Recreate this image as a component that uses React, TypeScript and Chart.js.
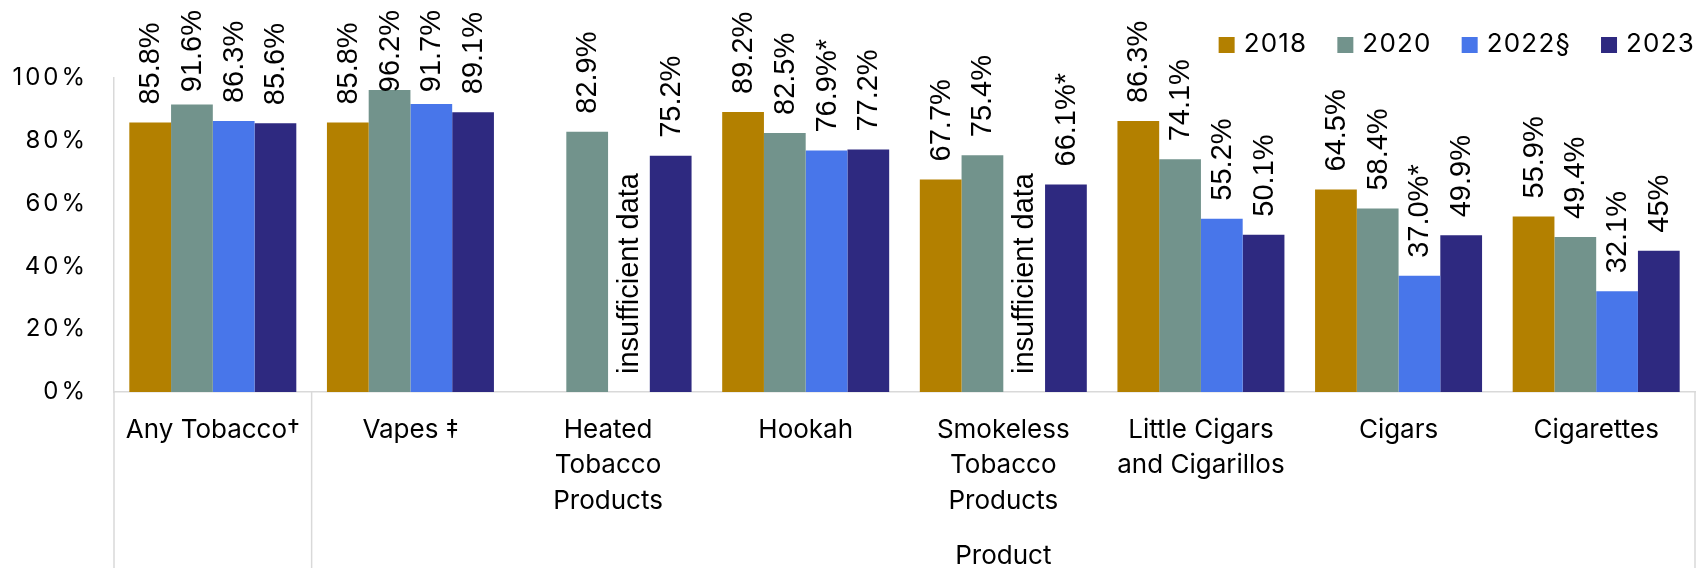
import React, { useEffect, useRef } from 'react';
import { Chart, registerables } from 'chart.js';

Chart.register(...registerables);

// ---- data ----
const categories: (string | string[])[] = [
  'Any Tobacco†',
  'Vapes ‡',
  ['Heated', 'Tobacco', 'Products'],
  'Hookah',
  ['Smokeless', 'Tobacco', 'Products'],
  ['Little Cigars', 'and Cigarillos'],
  'Cigars',
  'Cigarettes',
];
const seriesNames = ['2018', '2020', '2022§', '2023'];
const seriesColors = ['#B38000', '#72938C', '#4876EA', '#2E2980'];

const values2018 = [85.8, 85.8, null, 89.2, 67.7, 86.3, 64.5, 55.9];
const values2020 = [91.6, 96.2, 82.9, 82.5, 75.4, 74.1, 58.4, 49.4];
const values2022 = [86.3, 91.7, null, 76.9, null, 55.2, 37.0, 32.1];
const values2023 = [85.6, 89.1, 75.2, 77.2, 66.1, 50.1, 49.9, 45];

const labels2018 = ['85.8%', '85.8%', '', '89.2%', '67.7%', '86.3%', '64.5%', '55.9%'];
const labels2020 = ['91.6%', '96.2%', '82.9%', '82.5%', '75.4%', '74.1%', '58.4%', '49.4%'];
const labels2022 = ['86.3%', '91.7%', 'insufficient data', '76.9%*', 'insufficient data', '55.2%', '37.0%*', '32.1%'];
const labels2023 = ['85.6%', '89.1%', '75.2%', '77.2%', '66.1%*', '50.1%', '49.9%', '45%'];

const yMin = 0;
const yMax = 100;
const yStep = 20;
const axisTitle = 'Product';

const seriesValues = [values2018, values2020, values2022, values2023];
const seriesLabels = [labels2018, labels2020, labels2022, labels2023];

// ---- styles ----
const AXIS_COLOR = '#D9D9D9';
const TEXT_COLOR = '#000000';
const UI_FONT = 'Inter';
const LABEL_FONT = '"Liberation Sans", Arial, sans-serif';

const overlayPlugin = {
  id: 'overlay',
  afterLayout(chart: any) {
    const y = chart.scales.y;
    if (y && !y.__spaced) {
      const orig = y.drawLabels.bind(y);
      y.drawLabels = (area: any) => {
        const ctx: any = chart.ctx;
        const prev = ctx.letterSpacing;
        ctx.letterSpacing = '3px';
        orig(area);
        ctx.letterSpacing = prev || '0px';
      };
      y.__spaced = true;
    }
  },
  afterDatasetsDraw(chart: any) {
    const ctx: any = chart.ctx;
    const yScale = chart.scales.y;
    ctx.save();
    ctx.letterSpacing = '0px';
    ctx.fillStyle = TEXT_COLOR;
    ctx.font = `29px ${LABEL_FONT}`;
    ctx.textAlign = 'left';
    ctx.textBaseline = 'middle';
    chart.data.datasets.forEach((ds: any, di: number) => {
      const meta = chart.getDatasetMeta(di);
      const texts = seriesLabels[di];
      meta.data.forEach((el: any, i: number) => {
        const txt = texts[i];
        if (!txt) return;
        const v = ds.data[i] == null ? 0 : ds.data[i];
        const top = yScale.getPixelForValue(v);
        const w = ctx.measureText(txt).width;
        let start = top - 18;
        if (start - w < 10) start = 10 + w;
        ctx.save();
        ctx.translate(el.x, start);
        ctx.rotate(-Math.PI / 2);
        ctx.fillText(txt, 0, 1);
        ctx.restore();
      });
    });
    ctx.restore();
  },
  afterDraw(chart: any) {
    const ctx: any = chart.ctx;
    const x = chart.scales.x;
    const area = chart.chartArea;
    const cw = (x.right - x.left) / categories.length;
    ctx.save();
    ctx.letterSpacing = '0px';
    // multi-level category axis lines
    ctx.strokeStyle = AXIS_COLOR;
    ctx.lineWidth = 1.5;
    [x.left, x.left + cw, x.right].forEach((px: number) => {
      ctx.beginPath();
      ctx.moveTo(px, area.bottom);
      ctx.lineTo(px, chart.height);
      ctx.stroke();
    });
    // outer level title
    ctx.fillStyle = TEXT_COLOR;
    ctx.font = `26px ${UI_FONT}`;
    ctx.textAlign = 'center';
    ctx.textBaseline = 'middle';
    ctx.fillText(axisTitle, (x.left + cw + x.right) / 2, chart.height - 12);

    // legend (right aligned, top)
    ctx.font = `26px ${UI_FONT}`;
    ctx.letterSpacing = '1.2px';
    ctx.textAlign = 'left';
    let right = chart.width - 4;
    for (let i = chart.data.datasets.length - 1; i >= 0; i--) {
      const ds = chart.data.datasets[i];
      const tw = ctx.measureText(ds.label).width;
      const tx = right - tw;
      const bx = tx - 9 - 16;
      ctx.fillStyle = ds.backgroundColor;
      ctx.fillRect(bx, 37, 16, 16);
      ctx.fillStyle = TEXT_COLOR;
      ctx.fillText(ds.label, tx, 44);
      right = bx - 30;
    }
    ctx.restore();
  },
};

export default function App() {
  const canvasRef = useRef<HTMLCanvasElement | null>(null);

  useEffect(() => {
    if (!canvasRef.current) return;
    const chart = new Chart(canvasRef.current, {
      type: 'bar',
      data: {
        labels: categories,
        datasets: seriesNames.map((name, i) => ({
          label: name,
          data: seriesValues[i],
          backgroundColor: seriesColors[i],
          borderWidth: 0,
          categoryPercentage: 0.845,
          barPercentage: 1.0,
        })),
      },
      options: {
        animation: false,
        responsive: false,
        devicePixelRatio: 1,
        layout: { padding: { top: 78, left: 0, right: 4, bottom: 0 } },
        plugins: {
          legend: { display: false },
          tooltip: { enabled: false },
          title: { display: false },
        },
        scales: {
          x: {
            grid: { display: false, drawTicks: false },
            border: { display: true, color: AXIS_COLOR, width: 1.5 },
            ticks: {
              color: TEXT_COLOR,
              padding: 20,
              maxRotation: 0,
              autoSkip: false,
              font: { family: UI_FONT, size: 26, lineHeight: 1.365 },
            },
            afterFit: (s: any) => {
              s.height = 176;
            },
          },
          y: {
            min: yMin,
            max: yMax,
            grid: { display: false, drawTicks: false },
            border: { display: true, color: AXIS_COLOR, width: 1.5 },
            ticks: {
              stepSize: yStep,
              color: TEXT_COLOR,
              padding: 26,
              font: { family: UI_FONT, size: 24 },
              callback: (v: any) => `${v}%`,
            },
            afterFit: (s: any) => {
              s.width = 114;
            },
          },
        },
      },
      plugins: [overlayPlugin],
    } as any);
    return () => chart.destroy();
  }, []);

  return (
    <div style={{ position: 'fixed', left: 0, top: 0, width: 1699, height: 568, background: '#fff' }}>
      <canvas ref={canvasRef} width={1699} height={568} style={{ display: 'block' }} />
    </div>
  );
}
